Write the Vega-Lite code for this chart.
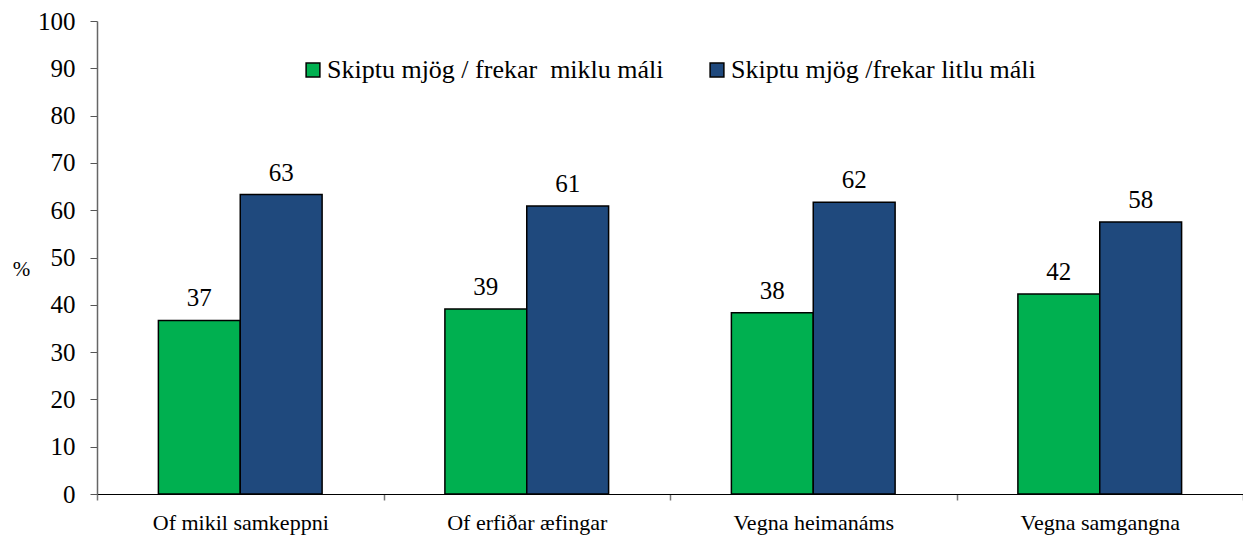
{
  "$schema": "https://vega.github.io/schema/vega-lite/v6.json",
  "autosize": {"type": "none"},
  "width": 1146,
  "height": 473,
  "padding": {"left": 97, "top": 21, "right": 0, "bottom": 43},
  "background": "white",
  "config": {"view": {"stroke": null}, "font": "Liberation Serif, Times New Roman, serif"},
  "data": {
    "values": [
      {"cat": "Of mikil samkeppni", "series": "Skiptu mjög / frekar\u00a0 miklu máli", "value": 36.7},
      {"cat": "Of mikil samkeppni", "series": "Skiptu mjög /frekar litlu máli", "value": 63.3},
      {"cat": "Of erfiðar æfingar", "series": "Skiptu mjög / frekar\u00a0 miklu máli", "value": 39.1},
      {"cat": "Of erfiðar æfingar", "series": "Skiptu mjög /frekar litlu máli", "value": 60.9},
      {"cat": "Vegna heimanáms", "series": "Skiptu mjög / frekar\u00a0 miklu máli", "value": 38.3},
      {"cat": "Vegna heimanáms", "series": "Skiptu mjög /frekar litlu máli", "value": 61.7},
      {"cat": "Vegna samgangna", "series": "Skiptu mjög / frekar\u00a0 miklu máli", "value": 42.3},
      {"cat": "Vegna samgangna", "series": "Skiptu mjög /frekar litlu máli", "value": 57.5}
    ]
  },
  "encoding": {
    "x": {
      "field": "cat", "type": "nominal", "sort": null,
      "scale": {"paddingInner": 0, "paddingOuter": 0},
      "axis": {
        "title": null, "labelAngle": 0, "labelFont": "Liberation Serif, Times New Roman, serif", "labelFontSize": 22,
        "labelColor": "black", "labelPadding": 12, "tickBand": "extent", "tickSize": 6,
        "tickColor": "#777", "tickWidth": 1.5, "domainColor": "black", "domainWidth": 1.2
      }
    },
    "xOffset": {
      "field": "series", "type": "nominal", "sort": null,
      "scale": {"paddingInner": 0, "paddingOuter": 0.75}
    },
    "y": {
      "field": "value", "type": "quantitative",
      "scale": {"domain": [0, 100], "nice": false},
      "axis": {
        "values": [0, 10, 20, 30, 40, 50, 60, 70, 80, 90, 100],
        "grid": false, "title": "%", "titleAngle": 0, "titleFont": "Liberation Serif, Times New Roman, serif",
        "titleFontSize": 21, "titleFontWeight": "normal", "titleX": -76, "titleY": 248,
        "titleAlign": "center", "titleBaseline": "middle", "titleColor": "black",
        "labelFont": "Liberation Serif, Times New Roman, serif", "labelFontSize": 25, "labelColor": "black",
        "labelPadding": 15, "tickSize": 7, "tickColor": "#555", "domainColor": "#666",
        "domainWidth": 1.5
      }
    }
  },
  "layer": [
    {
      "mark": {"type": "bar", "stroke": "black", "strokeWidth": 1.5},
      "encoding": {
        "color": {
          "field": "series", "type": "nominal", "sort": null,
          "scale": {
            "domain": ["Skiptu mjög / frekar\u00a0 miklu máli", "Skiptu mjög /frekar litlu máli"],
            "range": ["#00B050", "#1F497D"]
          },
          "legend": {
            "title": null, "orient": "none", "direction": "horizontal",
            "legendX": 203, "legendY": 36, "symbolType": "square", "symbolSize": 190,
            "symbolStrokeColor": "black", "symbolStrokeWidth": 1.5, "symbolOpacity": 1,
            "labelFont": "Liberation Serif, Times New Roman, serif", "labelFontSize": 26, "labelColor": "black",
            "labelOffset": 1, "columnPadding": 40, "labelLimit": 600
          }
        }
      }
    },
    {
      "mark": {"type": "text", "baseline": "bottom", "dy": -9, "fontSize": 25, "font": "Liberation Serif, Times New Roman, serif", "color": "black"},
      "encoding": {
        "text": {"field": "value", "type": "quantitative", "format": ".0f"}
      }
    }
  ]
}
